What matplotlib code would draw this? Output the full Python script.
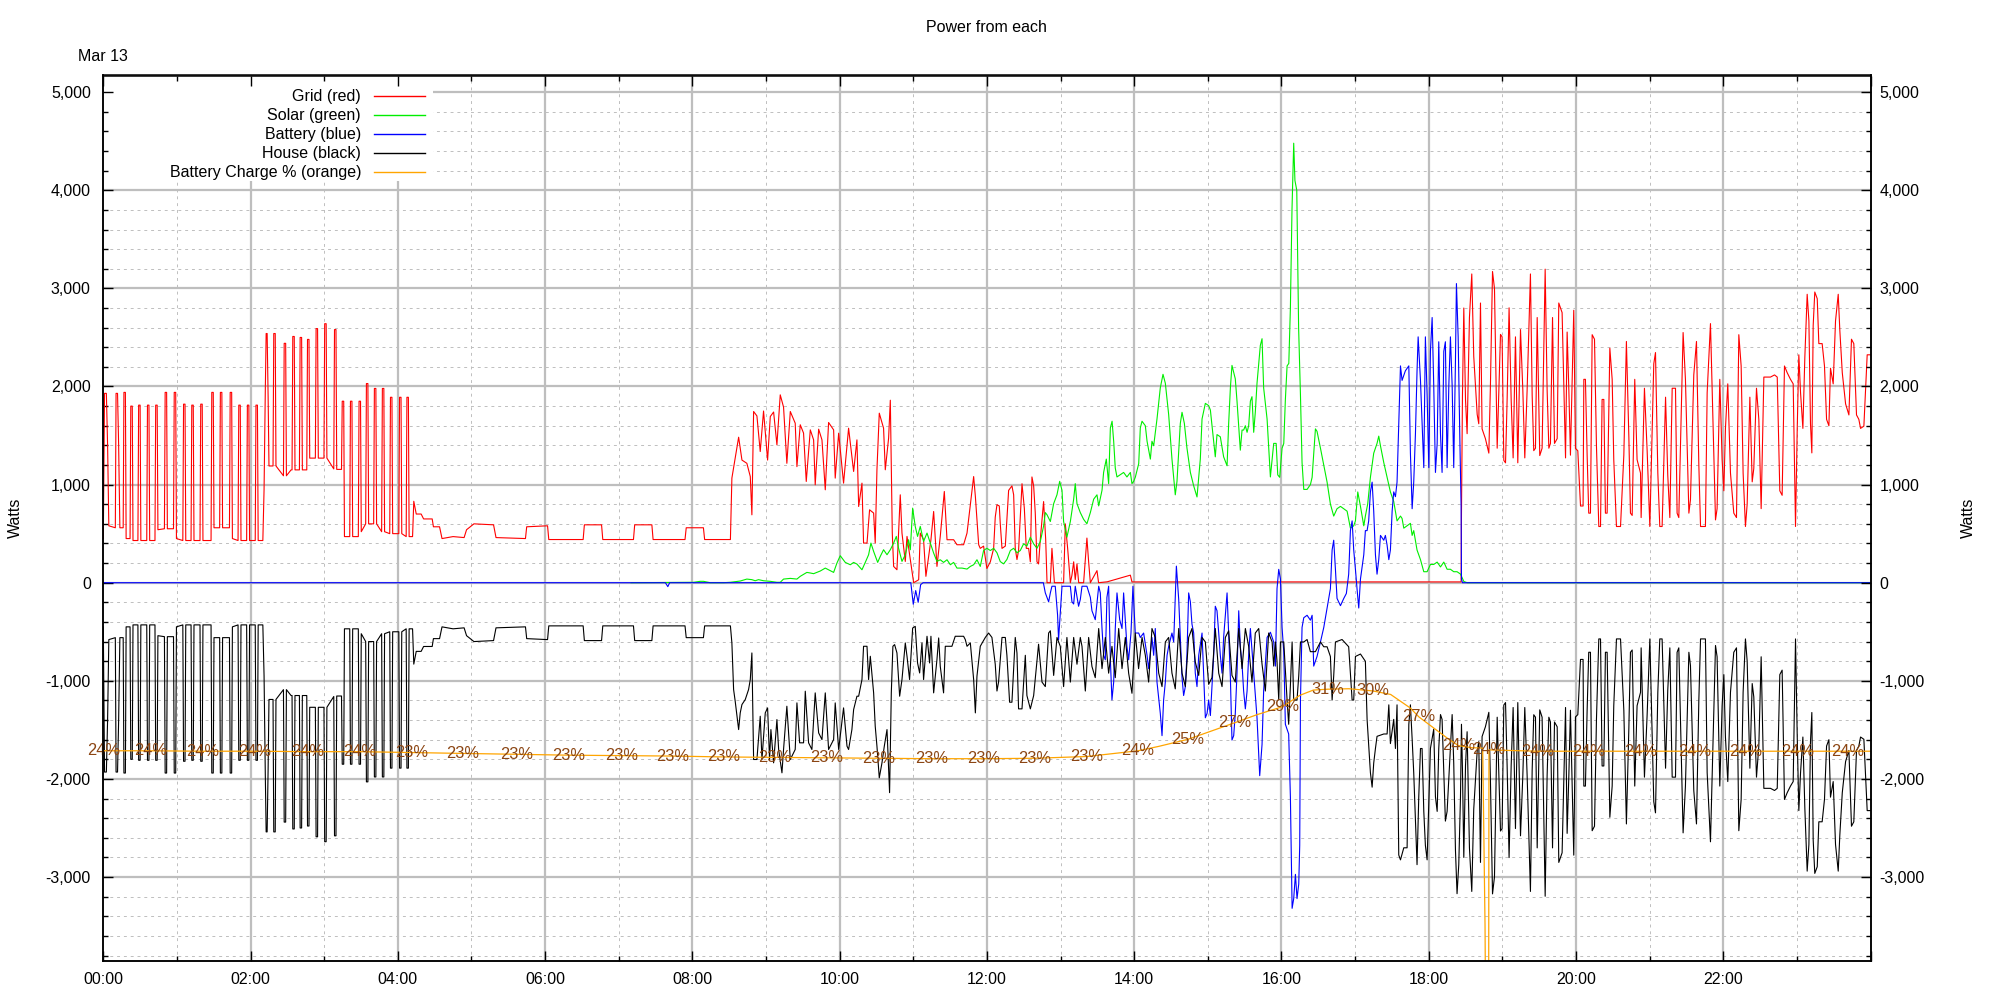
import matplotlib
matplotlib.use("Agg")
import matplotlib.pyplot as plt
from matplotlib.ticker import MultipleLocator, FuncFormatter
from matplotlib.patches import Rectangle
from matplotlib.lines import Line2D

plt.rcParams['font.family'] = ['Liberation Sans', 'DejaVu Sans']

# all times are minutes after midnight, values in watts

# night / early morning: battery idle, so house mirrors grid
night_t = [0, 1, 2.5, 3.5, 4.5, 9.8, 10.4, 11.6, 12.5, 13.5,
           16.2, 16.8, 18, 18.6, 21.8, 22.4, 23.6, 24.2,
           28.2, 28.8, 30, 30.6, 35.4, 36, 37.2, 37.8,
           42.1, 42.7, 43.9, 44.5, 49.8, 50.4, 51.6, 52.2,
           57.2, 57.8, 59, 59.6, 64.8, 65.4, 66.6, 67.2,
           71.5, 72.1, 73.3, 73.9, 78.8, 79.4, 80.6, 81.2,
           87.8, 88.4, 89.6, 90.2, 94.8, 95.4, 96.6, 97.2,
           102.8, 103.4, 104.6, 105.2, 109.8, 110.4, 111.6, 112.2,
           116.8, 117.4, 118.6, 119.2, 123.8, 124.4, 125.6, 126.2,
           130, 131, 132, 132.7, 133.5, 134.3, 135,
           138.3, 138.9, 140.1, 140.7, 146.8, 147.4, 148.6, 149.2, 153,
           153.8, 154.4, 155.6, 156.2, 159.8, 160.4, 161.6, 162.2,
           165.8, 166.4, 167.6, 168.2, 172.8, 173.4, 174.6, 175.2,
           179.8, 180.4, 181.6, 182.2, 187.8, 188.4, 189.6, 190.2,
           194.1, 194.7, 195.9, 196.5, 200.8, 201.4, 202.6, 203.2,
           207.8, 208.4, 209.6, 210.2, 213.8, 214.4, 215.6, 216.2,
           220.3, 220.9, 222.1, 222.7, 226.8, 227.4, 228.6, 229.2,
           233.4, 234, 235.2, 235.8, 240.8, 241.4, 242.6, 243.2,
           246.8, 247.4, 248.6, 249.2,
           252, 253, 255, 259, 261, 268, 269, 274, 276, 285, 294,
           296, 300, 302, 318, 320, 344, 345, 362, 363, 391, 392,
           406, 407, 432, 433, 447, 448, 474, 475, 489, 490, 511]
night_grid = [450, 1930, 1930, 1400, 580, 560, 1930, 1930, 1400, 560,
              560, 1940, 1940, 450, 450, 1800, 1800, 430,
              430, 1810, 1810, 430, 430, 1810, 1810, 430,
              430, 1810, 1810, 540, 550, 1940, 1940, 550,
              550, 1940, 1940, 450, 430, 1820, 1820, 430,
              430, 1810, 1810, 430, 430, 1820, 1820, 430,
              430, 1940, 1940, 560, 560, 1940, 1940, 560,
              560, 1940, 1940, 450, 430, 1810, 1810, 430,
              430, 1810, 1810, 430, 430, 1810, 1810, 430,
              430, 950, 1950, 2540, 2540, 1900, 1190,
              1190, 2540, 2540, 1190, 1090, 2440, 2440, 1090, 1150,
              1150, 2510, 2510, 1150, 1150, 2500, 2500, 1150,
              1150, 2480, 2480, 1270, 1270, 2590, 2590, 1270,
              1270, 2640, 2640, 1270, 1160, 2580, 2580, 1155,
              1155, 1850, 1850, 470, 470, 1850, 1850, 470,
              470, 1850, 1850, 520, 600, 2030, 2030, 600,
              600, 1980, 1980, 600, 520, 1980, 1980, 520,
              500, 1890, 1890, 500, 500, 1890, 1890, 500,
              470, 1890, 1890, 470,
              470, 830, 700, 700, 650, 650, 570, 570, 450, 470, 460,
              540, 580, 600, 590, 460, 450, 570, 580, 440, 440, 590,
              590, 440, 440, 590, 590, 440, 440, 560, 560, 440, 440]
night_house = [-450, -1930, -1930, -1400, -580, -560, -1930, -1930, -1400, -560,
               -560, -1940, -1940, -450, -450, -1800, -1800, -430,
               -430, -1810, -1810, -430, -430, -1810, -1810, -430,
               -430, -1810, -1810, -540, -550, -1940, -1940, -550,
               -550, -1940, -1940, -450, -430, -1820, -1820, -430,
               -430, -1810, -1810, -430, -430, -1820, -1820, -430,
               -430, -1940, -1940, -560, -560, -1940, -1940, -560,
               -560, -1940, -1940, -450, -430, -1810, -1810, -430,
               -430, -1810, -1810, -430, -430, -1810, -1810, -430,
               -430, -950, -1950, -2540, -2540, -1900, -1190,
               -1190, -2540, -2540, -1190, -1090, -2440, -2440, -1090, -1150,
               -1150, -2510, -2510, -1150, -1150, -2500, -2500, -1150,
               -1150, -2480, -2480, -1270, -1270, -2590, -2590, -1270,
               -1270, -2640, -2640, -1270, -1160, -2580, -2580, -1155,
               -1155, -1850, -1850, -470, -470, -1850, -1850, -470,
               -470, -1850, -1850, -520, -600, -2030, -2030, -600,
               -600, -1980, -1980, -600, -520, -1980, -1980, -520,
               -500, -1890, -1890, -500, -500, -1890, -1890, -500,
               -470, -1890, -1890, -470,
               -470, -830, -700, -700, -650, -650, -570, -570, -450, -470, -460,
               -540, -580, -600, -590, -460, -450, -570, -580, -440, -440, -590,
               -590, -440, -440, -590, -590, -440, -440, -560, -560, -440, -440]

# daytime grid import
day_grid = [
    (512.2, 1066), (517.7, 1483), (520.4, 1250), (524.4, 1217), (527.2, 1082), (528.5, 692), (529.9, 1745), (532.6, 1700),
    (535.3, 1337), (538, 1750), (541.3, 1250), (543.5, 1694), (546.2, 1740), (548.9, 1405), (551.6, 1915), (554.3, 1790),
    (557, 1217), (559.8, 1745), (563.8, 1626), (565.2, 1183), (567.9, 1610), (570.6, 1525), (572.8, 1032), (576.1, 1558),
    (578.8, 1456), (580.1, 998), (582.9, 1565), (585.6, 1456), (588.3, 947), (591, 1633), (595.1, 1558), (596.4, 1066),
    (599.2, 1524), (603.2, 1015), (607.3, 1575), (611.4, 1134), (614.1, 1456), (615.5, 777), (618.2, 1015), (619.5, 404),
    (622.3, 404), (624.4, 743), (627.7, 710), (629, 404), (630.4, 1151), (632.3, 1728), (635.8, 1575), (637.2, 1151),
    (639.9, 1473), (641.3, 1860), (642.9, 506), (644, 166), (646.7, 132), (649.4, 896), (650.8, 506), (653.5, 217),
    (654.9, 472), (657.6, 235), (660.3, 0), (664.4, 30), (665.7, 506), (668.4, 438), (670.3, 65), (674.4, 438),
    (676.6, 726), (679.3, 166), (682, 472), (685.3, 930), (687.5, 438), (692.9, 438), (695.6, 387), (701, 387),
    (703.8, 506), (709.2, 1082), (710.6, 880), (713.3, 387), (714.6, 350), (717.3, 373), (720, 145), (722.8, 213),
    (725.5, 350), (726.8, 668), (728.2, 795), (730.1, 782), (730.9, 600), (732.3, 350), (735, 373), (737.7, 941),
    (740.4, 987), (741.8, 896), (743.1, 350), (744.5, 236), (745.8, 327), (748.6, 1009), (750.5, 759), (752.1, 350),
    (754, 350), (755.4, 213), (756.7, 1078), (758.1, 987), (759.4, 714), (760.8, 213), (762.1, 191), (763.5, 441),
    (766.2, 827), (767.9, 441), (769, 0), (771.7, 0), (773, 350), (775, 0), (782.5, 0), (783.9, 600),
    (785.8, 350), (788, 0), (789.3, 77), (790.7, 213), (792, 32), (793.4, 191), (794.8, 0), (798.8, 0),
    (801.5, 455), (802.9, 213), (804.3, 0), (809.7, 123), (811, 0), (818, 9), (836.9, 77), (838.2, 8),
    (1106.4, 8), (1106.7, 700),
]

# evening: battery empty again, house mirrors grid
eve_t = [1107.5, 1108.6, 1110, 1111.3, 1113.2, 1115.1, 1116.7, 1118.1, 1119.5, 1120.8,
         1122.2, 1123.5, 1126.2, 1129, 1130.3, 1132, 1133.6, 1135.8, 1138.5, 1139.8,
         1141.2, 1142.6, 1143.9, 1145.5, 1147.2, 1148.8, 1150.7, 1152.6, 1154.8, 1156.7,
         1158.3, 1160.2, 1162.9, 1164.3, 1165.6, 1167, 1168.4, 1170.5, 1172.4, 1174.9,
         1176.5, 1177.9, 1179.2, 1180.9, 1182.5, 1184.7, 1186, 1188.7, 1190.1, 1191.5,
         1192.8, 1194.2, 1195.5, 1198.2, 1199.6, 1201.5, 1203.7, 1205.8, 1206.4, 1207.7,
         1209.1, 1210.4, 1211.8, 1213.2, 1215.1, 1216.7, 1218.6, 1220, 1221.3, 1222.7,
         1224, 1225.4, 1227.6, 1229.5, 1230.8, 1233, 1236.3, 1239, 1241.1, 1243.1,
         1244.4, 1245.8, 1247.9, 1249.8, 1252.6, 1253.1, 1255.8, 1258, 1260.2, 1263.4,
         1264.8, 1266.7, 1268.3, 1270.2, 1273, 1274.8, 1276.5, 1278.4, 1281.1, 1282.4,
         1283.8, 1287.3, 1289.2, 1292, 1293.3, 1296, 1298.2, 1300.1, 1301.5, 1305.5,
         1306.9, 1309.6, 1311.8, 1313.7, 1315, 1317.2, 1319.1, 1320.5, 1321.8, 1323.7,
         1325.9, 1328.6, 1330.8, 1332.7, 1334.6, 1336.2, 1338.1, 1339.5, 1341.7, 1343.6,
         1344.9, 1347.1, 1349, 1350.9, 1353.1, 1358.5, 1361.8, 1364, 1366.1, 1368,
         1369.9, 1372.1, 1374.8, 1377, 1378.9, 1380.3, 1381.6, 1383, 1384.9, 1386.5,
         1388.4, 1389.8, 1391.1, 1392.2, 1393.3, 1394.6, 1396.6, 1397.9, 1400.6, 1402.5,
         1404.2, 1406.1, 1407.4, 1409.6, 1411.5, 1413.7, 1415, 1417, 1419.7, 1422.4,
         1424.5, 1426.4, 1428.6, 1430.5, 1431.9, 1434.6, 1437.3, 1440]
eve_grid = [1900, 2800, 1864, 1519, 2703, 3147, 2308, 2012, 1716, 1620,
            2851, 1568, 1469, 1321, 2012, 3172, 2999, 1371, 2531, 2506,
            1247, 1222, 1864, 2802, 1864, 1272, 2506, 1222, 2580, 1963,
            1272, 1963, 3147, 1914, 1346, 1371, 2703, 1296, 1371, 3196,
            1963, 1371, 1420, 2703, 1420, 1469, 2851, 2753, 2012, 1272,
            2555, 1963, 1300, 2777, 1368, 1345, 782, 782, 2073, 2073,
            1300, 709, 709, 2528, 2482, 1391, 573, 573, 1868, 1868,
            709, 709, 2391, 2073, 1254, 573, 573, 1300, 2459, 1481,
            709, 686, 2073, 1254, 1118, 664, 1982, 1345, 573, 2232,
            2346, 1118, 573, 573, 1891, 1095, 664, 1982, 1982, 709,
            664, 2550, 2073, 709, 846, 2118, 2459, 1209, 573, 573,
            1936, 2641, 1573, 640, 755, 2073, 1254, 937, 1573, 2027,
            1118, 709, 664, 2528, 2209, 1118, 573, 800, 1891, 1028,
            1164, 1982, 1665, 755, 2096, 2096, 2118, 2096, 937, 891,
            2209, 2141, 2073, 2027, 573, 1573, 2323, 1936, 1573, 2300,
            2940, 2668, 1618, 1323, 2623, 2963, 2895, 2437, 2437, 2209,
            1665, 1600, 2186, 2027, 2668, 2940, 2573, 2141, 1823, 1710,
            2482, 2437, 1710, 1665, 1573, 1596, 2323, 2323]
eve_house = [-1900, -2800, -1864, -1519, -2703, -3147, -2308, -2012, -1716, -1620,
             -2851, -1568, -1469, -1321, -2012, -3172, -2999, -1371, -2531, -2506,
             -1247, -1222, -1864, -2802, -1864, -1272, -2506, -1222, -2580, -1963,
             -1272, -1963, -3147, -1914, -1346, -1371, -2703, -1296, -1371, -3196,
             -1963, -1371, -1420, -2703, -1420, -1469, -2851, -2753, -2012, -1272,
             -2555, -1963, -1300, -2777, -1368, -1345, -782, -782, -2073, -2073,
             -1300, -709, -709, -2528, -2482, -1391, -573, -573, -1868, -1868,
             -709, -709, -2391, -2073, -1254, -573, -573, -1300, -2459, -1481,
             -709, -686, -2073, -1254, -1118, -664, -1982, -1345, -573, -2232,
             -2346, -1118, -573, -573, -1891, -1095, -664, -1982, -1982, -709,
             -664, -2550, -2073, -709, -846, -2118, -2459, -1209, -573, -573,
             -1936, -2641, -1573, -640, -755, -2073, -1254, -937, -1573, -2027,
             -1118, -709, -664, -2528, -2209, -1118, -573, -800, -1891, -1028,
             -1164, -1982, -1665, -755, -2096, -2096, -2118, -2096, -937, -891,
             -2209, -2141, -2073, -2027, -573, -1573, -2323, -1936, -1573, -2300,
             -2940, -2668, -1618, -1323, -2623, -2963, -2895, -2437, -2437, -2209,
             -1665, -1600, -2186, -2027, -2668, -2940, -2573, -2141, -1823, -1710,
             -2482, -2437, -1710, -1665, -1573, -1596, -2323, -2323]

solar = [
    (430, 0), (481, 4), (486.4, 14), (489.1, 14), (494.6, 0), (505.4, 0), (510.9, 4), (519, 17), (524.4, 37), (528.5, 31),
    (531.2, 20), (533.9, 31), (538, 20), (543.5, 14), (548.9, 4), (551.6, 4), (554.3, 37), (559.8, 44), (565.2, 37), (567.9, 65),
    (573.3, 105), (576.1, 99), (578.8, 92), (584.2, 119), (588.3, 149), (591, 132), (595.1, 105), (597.8, 200), (600.5, 275), (604.6, 207),
    (608.7, 183), (611.4, 207), (614.1, 190), (618.2, 132), (620.9, 207), (623.6, 285), (625.5, 404), (627.7, 319), (631, 207), (633.1, 268),
    (635.8, 336), (638.6, 285), (641.3, 336), (644, 404), (646.2, 472), (648, 353), (650.8, 217), (653.5, 285), (656.2, 438), (657.6, 336),
    (659.5, 760), (661.6, 574), (663.5, 472), (665.7, 574), (668.4, 421), (671.2, 506), (673.9, 404), (676.6, 302), (679.3, 217), (682, 234),
    (684.7, 207), (687.5, 234), (690.2, 183), (692.9, 207), (695.6, 149), (699.7, 149), (703.8, 139), (706.5, 166), (709.2, 183), (711.9, 234),
    (714.6, 166), (717.3, 328), (720, 351), (722.8, 328), (725.5, 351), (728.2, 305), (730.9, 215), (733.6, 192), (736.3, 237), (739.1, 328),
    (741.8, 351), (744.5, 305), (747.2, 328), (749.9, 396), (752.6, 374), (755.4, 464), (758.1, 396), (760.8, 351), (763.5, 419), (766.2, 578),
    (767.6, 715), (769, 692), (771.7, 624), (774.4, 806), (777.1, 896), (779.3, 1033), (781.2, 942), (782.5, 624), (785.2, 464), (788, 624),
    (790.7, 851), (792, 1010), (793.4, 806), (796.1, 715), (798.8, 646), (801.5, 601), (804.3, 715), (807, 851), (809.7, 896), (811.1, 783),
    (813.8, 942), (815.1, 1124), (817.3, 1260), (819.2, 1010), (820.6, 1578), (822, 1646), (823.3, 1442), (824.6, 1169), (826, 1078), (828.7, 1101),
    (831.4, 1124), (834.1, 1078), (836.9, 1124), (838.2, 1010), (839.6, 1033), (841, 1078), (843.7, 1214), (845, 1578), (846.4, 1646), (849.1, 1600),
    (850.5, 1442), (853.2, 1260), (854.5, 1442), (855.9, 1396), (858.6, 1669), (861.3, 1987), (863.5, 2124), (865.4, 2033), (868.1, 1715), (870.8, 1260),
    (873.5, 896), (874.9, 1033), (877.6, 1624), (879, 1737), (880.9, 1624), (883, 1374), (885.8, 1124), (888.5, 987), (891.2, 874), (893.9, 1260),
    (895.3, 1669), (898, 1828), (900.7, 1805), (902.1, 1760), (904.8, 1442), (906.1, 1283), (907.5, 1510), (910.2, 1487), (912.9, 1283), (915.7, 1192),
    (917, 1624), (918.4, 1987), (919.7, 2215), (922.4, 2078), (923.8, 1851), (926.5, 1351), (927.9, 1556), (929.2, 1556), (930.6, 1600), (932, 1533),
    (933.3, 1600), (934.7, 1851), (936, 1896), (937.4, 1533), (938.7, 1737), (940.1, 2033), (942.8, 2419), (944.2, 2487), (945.5, 1987), (948.3, 1669),
    (951, 1078), (953.7, 1420), (955.7, 1420), (957, 1099), (958.6, 1074), (960.5, 1370), (961.9, 1420), (963.2, 1864), (964.6, 2210), (966, 2235),
    (967.3, 2800), (968.6, 3800), (970, 4480), (971, 4100), (972.5, 4000), (974, 2600), (975.5, 1913), (976.8, 1224), (978.2, 951), (980.9, 951),
    (983.6, 1000), (985, 1074), (986.3, 1320), (987.7, 1568), (989, 1543), (991.8, 1371), (994.5, 1199), (997.2, 1025), (999.9, 802), (1002.6, 679),
    (1005.3, 754), (1008.1, 778), (1010.8, 754), (1013.5, 729), (1016.2, 556), (1018.9, 580), (1020.3, 630), (1022.2, 925), (1024.4, 778), (1027.1, 580),
    (1028.4, 679), (1030.3, 803), (1032.5, 1074), (1035.2, 1320), (1037.9, 1420), (1039.3, 1494), (1040.7, 1395), (1043.4, 1224), (1046.1, 1074), (1048.8, 925),
    (1051.5, 828), (1054.2, 630), (1057, 679), (1058.3, 655), (1059.7, 556), (1062.4, 580), (1065.1, 605), (1066.5, 482), (1067.8, 531), (1070.5, 333),
    (1073.3, 235), (1076, 112), (1078.7, 112), (1081.4, 186), (1084.1, 186), (1086.9, 210), (1089.6, 161), (1092.3, 210), (1095, 137), (1097.7, 137),
    (1100.4, 112), (1103.1, 112), (1105.9, 88), (1108.6, 13), (1111.3, 0), (1440, 0),
]

battery = [
    (0, 0), (458, 0), (460, -40), (461.5, 0), (658, 0), (660, -220), (662, -80), (664, -200), (666, -20), (668, 0),
    (766, 0), (767.6, -104), (770.3, -195), (771.7, -104), (773, -36), (775.7, -36), (777.6, -331), (778.4, -581), (779.8, -308), (781.2, -36),
    (788, -36), (789.3, -195), (790.7, -217), (792, -36), (794.7, -240), (796.1, -172), (797.5, -36), (801.5, -36), (804.3, -149), (805.6, -286),
    (808.3, -377), (811.1, -36), (812.4, -104), (813.8, -467), (815.1, -740), (816.5, -786), (817.8, -149), (819.2, -36), (820.6, -786), (821.9, -1195),
    (823.3, -1013), (824.6, -467), (826, -104), (828.2, -377), (830.1, -467), (831.4, -104), (834.1, -649), (835.5, -786), (837.4, -513), (839, -36),
    (840.9, -513), (843.7, -513), (845, -558), (847.7, -513), (850.5, -740), (851.8, -876), (854.5, -558), (855.9, -740), (857.2, -467), (858.6, -1013),
    (861.3, -1332), (862.7, -1559), (864, -1195), (865.4, -1013), (866.8, -740), (868.1, -649), (870.8, -513), (872.2, -604), (874.4, 169), (876.3, -172),
    (877.6, -558), (879, -968), (880.3, -1150), (881.7, -1059), (883, -740), (884.4, -104), (885.8, -195), (887.1, -422), (888.5, -513), (889.8, -922),
    (891.2, -1059), (892.6, -740), (895.3, -513), (898, -1377), (899.4, -1332), (900.7, -1195), (902.1, -1354), (904.8, -740), (906.1, -240), (907.5, -286),
    (908.9, -513), (910.2, -740), (911.6, -922), (912.9, -558), (915.7, -104), (917, -513), (918.4, -968), (919.7, -1604), (921.1, -1559), (922.4, -1332),
    (923.8, -922), (925.2, -286), (926.5, -649), (927.9, -831), (929.2, -1104), (930.6, -1286), (932, -1104), (933.3, -740), (934.7, -467), (937.4, -922),
    (940.1, -1377), (942.3, -1967), (944.2, -1649), (945.5, -1104), (948.3, -558), (951, -505), (953.7, -604), (955.1, -850), (956.4, -61), (957.8, 136),
    (959.2, 38), (960.5, -456), (961.9, -703), (963.2, -1443), (965.9, -1542), (967.3, -2183), (968.7, -3319), (970, -3220), (971.4, -2973), (972.7, -3220),
    (974.1, -3072), (974.9, -2677), (975.5, -1196), (976.8, -456), (978.2, -357), (980.9, -332), (983.6, -382), (985, -332), (986.3, -850), (989, -752),
    (991.8, -604), (994.5, -456), (997.2, -258), (999.9, -61), (1001.3, 334), (1002.6, 433), (1004, 136), (1005.3, -160), (1008.1, -234), (1010.8, -160),
    (1012.9, -110), (1014.8, 87), (1016.2, 531), (1017.6, 630), (1018.9, 334), (1020.3, 136), (1021.6, -61), (1023, -258), (1024.4, 38), (1027.1, 285),
    (1028.4, 531), (1029.8, 531), (1031.1, 630), (1032.5, 926), (1033.9, 1025), (1035.2, 729), (1036.6, 285), (1037.9, 87), (1039.3, 235), (1040.7, 482),
    (1043.4, 433), (1044.7, 482), (1046.1, 383), (1047.5, 235), (1048.8, 334), (1050.2, 729), (1051.5, 926), (1052.9, 877), (1054.2, 1025), (1055.6, 1617),
    (1057, 2210), (1058.3, 2062), (1061, 2160), (1063.8, 2210), (1065.1, 1321), (1066.5, 754), (1067.8, 1025), (1069.2, 1519), (1070.5, 2160), (1071.4, 2506),
    (1073.3, 2062), (1076, 1173), (1077.3, 2506), (1078.7, 1914), (1080.1, 1173), (1081.4, 2358), (1082.8, 2703), (1084.1, 2012), (1085.5, 1124), (1086.9, 1420),
    (1088.2, 2456), (1089.6, 1519), (1090.9, 1124), (1092.3, 2358), (1093.6, 2456), (1095, 1173), (1096.4, 2012), (1097.7, 2506), (1099.1, 2012), (1100.4, 1173),
    (1101.8, 2259), (1102.6, 3049), (1104, 2506), (1105.3, 1519), (1106.4, 778), (1106.7, 38), (1107.5, 0), (1440, 0),
]

day_house = [
    (512.2, -614), (513.6, -1089), (514.9, -1208), (517.7, -1497), (519, -1327), (520.4, -1242), (523.1, -1191), (525.8, -1089), (527.2, -987), (528.5, -716),
    (529.9, -1802), (532.6, -1802), (535.3, -1361), (536.7, -1802), (539.4, -1327), (541.3, -1276), (542.9, -1802), (544, -1497), (546.2, -1836), (548.9, -1395),
    (550.3, -1700), (553, -1938), (554.3, -1700), (557, -1259), (559.8, -1802), (563.8, -1700), (565.2, -1225), (567.4, -1632), (570.6, -1632), (572, -1106),
    (574.7, -1632), (577.4, -1700), (580.1, -1123), (582.9, -1531), (585.6, -1599), (588.3, -1123), (591, -1700), (595.1, -1599), (596.4, -1225), (599.2, -1700),
    (603.2, -1276), (606, -1666), (607.3, -1700), (610, -1497), (611.4, -1293), (614.1, -1157), (615.5, -1157), (618.2, -987), (619.5, -648), (622.3, -648),
    (623.6, -987), (625, -750), (627.7, -1123), (629, -1463), (630.4, -1666), (632.3, -1989), (634.5, -1836), (636.4, -1666), (638.6, -1497), (640.7, -2140),
    (642.1, -1123), (643.4, -648), (644.8, -631), (646.7, -716), (648.9, -1157), (650.8, -987), (653.5, -614), (654.9, -750), (657, -987), (659.5, -462),
    (661.6, -445), (663.5, -818), (665.2, -920), (667.1, -614), (668.4, -987), (671.2, -546), (673.3, -818), (674.4, -546), (676.6, -1123), (679.3, -784),
    (680.7, -563), (682, -852), (684.7, -1123), (686.1, -648), (688.8, -648), (691.5, -648), (694.2, -546), (701, -546), (702.4, -580), (703.8, -648),
    (706.5, -614), (709.2, -987), (710.6, -1327), (711.9, -953), (714.6, -648), (718.7, -558), (721.4, -513), (724.1, -558), (726.8, -831), (728.2, -1104),
    (729.5, -1013), (732.3, -558), (735, -558), (736.3, -740), (738.5, -1218), (740.4, -1218), (743.1, -558), (744.5, -717), (745.8, -1286), (748.6, -1286),
    (751.3, -740), (752.6, -1150), (755.4, -1286), (758.1, -1150), (762.1, -627), (764.9, -1013), (767.6, -1059), (770.3, -513), (771.7, -490), (774.4, -945),
    (777.1, -558), (779.8, -649), (782.5, -1059), (785.2, -558), (788, -1013), (790.7, -558), (793.4, -831), (796.1, -558), (797.5, -649), (800.2, -1104),
    (802.9, -558), (805.6, -854), (808.3, -968), (811.1, -467), (813.8, -876), (816.5, -558), (819.2, -922), (821.9, -649), (824.6, -968), (827.4, -467),
    (830.1, -876), (832.8, -558), (835.5, -922), (838.2, -1127), (840.9, -513), (843.6, -876), (846.4, -558), (849.1, -740), (851.8, -1013), (854.5, -467),
    (857.2, -558), (860, -922), (862.7, -1059), (865.4, -604), (868.1, -558), (870.8, -922), (873.5, -1082), (876.3, -467), (879, -922), (881.7, -1059),
    (884.4, -558), (887.1, -467), (889.8, -808), (892.6, -945), (895.3, -558), (898, -604), (900.7, -1036), (903.4, -968), (906.1, -467), (908.9, -922),
    (911.6, -1059), (914.3, -558), (917, -490), (919.7, -945), (922.4, -1013), (925.2, -467), (927.9, -876), (930.6, -467), (933.3, -649), (936, -1013),
    (938.7, -513), (941.5, -467), (944.2, -831), (946.9, -1104), (949.6, -513), (952.4, -604), (953.7, -850), (955.1, -604), (956.4, -801), (957.8, -1196),
    (959.2, -604), (961.9, -604), (964.6, -1196), (965.9, -1443), (967.3, -1048), (968.7, -604), (970, -1196), (972.7, -1196), (974.1, -949), (975.5, -604),
    (978.2, -604), (980.9, -579), (983.6, -703), (987.7, -703), (991.8, -604), (994.5, -653), (997.2, -653), (999.9, -752), (1001.3, -1196), (1002.6, -949),
    (1004, -604), (1009.4, -579), (1014.8, -653), (1017.6, -1196), (1018.9, -1196), (1020.3, -752), (1024.4, -727), (1028.4, -801), (1029.8, -1393), (1032.5, -1936),
    (1033.9, -2084), (1035.2, -1838), (1036.6, -1690), (1037.9, -1566), (1043.4, -1542), (1046.1, -1542), (1047.5, -1245), (1048.8, -1640), (1051.5, -1393), (1052.9, -1690),
    (1054.2, -1245), (1055.6, -2776), (1057, -2825), (1059.7, -2702), (1062.4, -2702), (1063.8, -1443), (1065.1, -1245), (1066.5, -1591), (1067.8, -1936), (1069.2, -2430),
    (1070.5, -2874), (1071.9, -2183), (1073.3, -1690), (1074.6, -1690), (1076, -2331), (1077.3, -2677), (1078.7, -2825), (1080.1, -2233), (1081.4, -1690), (1084.1, -1492),
    (1085.5, -2183), (1086.9, -2331), (1088.2, -1690), (1089.6, -1344), (1090.9, -1393), (1092.3, -1936), (1093.6, -2430), (1095, -2331), (1097.7, -1690), (1099.1, -1344),
    (1100.4, -1838), (1101.8, -2726), (1103.1, -3170), (1104.5, -2874), (1105.9, -2183), (1106.7, -1443),
]

# battery charge %, label value shown at some points (0 = no label)
charge_t = [0, 38.5, 81, 123.7, 166.4, 209, 251.6, 293, 337, 379.5,
            422, 463.7, 505.3, 547, 589.5, 632, 674.8, 717.4, 759, 801.6,
            843.2, 860, 883.7, 900, 922.2, 940, 960.7, 975, 986, 998,
            1015, 1034.5, 1049, 1065, 1072, 1095, 1104, 1115, 1124, 1125.9,
            1126.1, 1128.9, 1129.1, 1168.6, 1210, 1253, 1296.5, 1338, 1380.7, 1421,
            1440]
charge_pct = [24.1, 24.1, 24.05, 24.05, 24.0, 24.0, 23.9, 23.8, 23.7, 23.6,
              23.55, 23.5, 23.4, 23.35, 23.3, 23.25, 23.2, 23.2, 23.25, 23.45,
              24.1, 24.6, 25.4, 26.2, 27.3, 28.2, 29.1, 30.4, 31.0, 31.1,
              31.15, 30.9, 30.5, 28.96, 27.95, 25.55, 24.7, 24.45, 24.4, 4.3,
              0, 0, 24.2, 24.05, 24.05, 24.05, 24.05, 24.05, 24.05, 24.05,
              24.05]
charge_lbl = [24, 24, 24, 24, 24, 24, 23, 23, 23, 23,
              23, 23, 23, 23, 23, 23, 23, 23, 23, 23,
              24, 0, 25, 0, 27, 0, 29, 0, 0, 31,
              0, 30, 0, 0, 27, 0, 24, 0, 0, 0,
              0, 0, 24, 24, 24, 24, 24, 24, 24, 24,
              0]

# charge % is drawn on the watts axis
PCT_SCALE = 89.7
PCT_OFFSET = -3875
YMIN, YMAX = -3856, 5170
FS = 11.5


def split(pts):
    return [p[0] for p in pts], [p[1] for p in pts]


dg_t, dg_w = split(day_grid)
grid_t = night_t + dg_t + eve_t
grid_w = night_grid + dg_w + eve_grid
dh_t, dh_w = split(day_house)
house_t = night_t + dh_t + eve_t
house_w = night_house + dh_w + eve_house
solar_t, solar_w = split(solar)
batt_t, batt_w = split(battery)
charge_y = [p * PCT_SCALE + PCT_OFFSET for p in charge_pct]

W, H = 2000, 1000
fig = plt.figure(figsize=(20, 10), dpi=100)
L, R, T, B = 103.3, 1870.5, 75.5, 961
ax = fig.add_axes([L / W, 1 - B / H, (R - L) / W, (B - T) / H])
ax.set_xlim(0, 1440)
ax.set_ylim(YMIN, YMAX)

# grid by hand so the key box can sit on top of it
gcol = '#bebebe'
for v in range(-3800, 5001, 200):
    if v % 1000 == 0:
        ax.axhline(v, color=gcol, lw=1.6, zorder=0.5)
    else:
        ax.axhline(v, color=gcol, lw=0.7, ls=(0, (3, 4)), zorder=0.5)
for m in range(60, 1440, 60):
    if m % 120 == 0:
        ax.axvline(m, color=gcol, lw=1.6, zorder=0.5)
    else:
        ax.axvline(m, color=gcol, lw=0.7, ls=(0, (3, 4)), zorder=0.5)

ax.add_patch(Rectangle((0, (B - 181) / (B - T)), (433 - L) / (R - L), 1,
                       transform=ax.transAxes, facecolor='white',
                       edgecolor='none', zorder=1))

ax.plot(grid_t, grid_w, color='#ff0000', lw=0.8, zorder=2)
ax.plot(solar_t, solar_w, color='#00ee00', lw=0.8, zorder=2)
ax.plot(batt_t, batt_w, color='#0000ff', lw=0.8, zorder=2)
ax.plot(house_t, house_w, color='black', lw=0.8, zorder=2)
ax.plot(charge_t, charge_y, color='#ffa500', lw=0.9, zorder=2)

for t, y, lab in zip(charge_t, charge_y, charge_lbl):
    if lab:
        ax.text(t, y, f"{lab}%", ha='center', va='center', color='#8b4513',
                fontsize=11.8, zorder=4, clip_on=False)

fmt_w = FuncFormatter(lambda v, p: f"{int(round(v)):,}")
ax.xaxis.set_major_locator(MultipleLocator(120))
ax.xaxis.set_minor_locator(MultipleLocator(60))
ax.xaxis.set_major_formatter(FuncFormatter(
    lambda v, p: f"{int(v) // 60:02d}:00" if v < 1440 else ""))
ax.yaxis.set_major_locator(MultipleLocator(1000))
ax.yaxis.set_minor_locator(MultipleLocator(200))
ax.yaxis.set_major_formatter(fmt_w)
ax.tick_params(which='both', direction='in', top=True, right=False, width=1)
ax.tick_params(which='major', length=7.5, labelsize=FS)
ax.tick_params(which='minor', length=3.5)
ax.tick_params(axis='y', which='major', pad=9)
ax.tick_params(axis='x', which='major', pad=8)
for s in ax.spines.values():
    s.set_linewidth(1.1)

ax2 = ax.twinx()
ax2.set_ylim(YMIN, YMAX)
ax2.yaxis.set_major_locator(MultipleLocator(1000))
ax2.yaxis.set_minor_locator(MultipleLocator(200))
ax2.yaxis.set_major_formatter(fmt_w)
ax2.tick_params(which='both', direction='in', width=1)
ax2.tick_params(which='major', length=7.5, labelsize=FS, pad=6.5)
ax2.tick_params(which='minor', length=3.5)
for s in ax2.spines.values():
    s.set_linewidth(1.1)

# key, right aligned text with the line sample after it
names = ["Grid (red)", "Solar (green)", "Battery (blue)", "House (black)",
         "Battery Charge % (orange)"]
colors = ['#ff0000', '#00ee00', '#0000ff', 'black', '#ffa500']
rows = [96, 115.3, 134.3, 153.3, 172.3]
for name, c, ry in zip(names, colors, rows):
    fig.text(361 / W, 1 - ry / H, name, ha='right', va='center', fontsize=FS)
    fig.add_artist(Line2D([374 / W, 425 / W], [1 - ry / H, 1 - ry / H],
                          color=c, lw=1.0, transform=fig.transFigure))

fig.text(986 / W, 1 - 27 / H, "Power from each", ha='center', va='center',
         fontsize=FS)
fig.text(102.6 / W, 1 - 56.7 / H, "Mar 13", ha='center', va='center',
         fontsize=FS)
fig.text(15.3 / W, 1 - B / H + (B - T) / H / 2, "Watts", rotation=90,
         ha='center', va='center', fontsize=FS)
fig.text(1968 / W, 1 - B / H + (B - T) / H / 2, "Watts", rotation=90,
         ha='center', va='center', fontsize=FS)

fig.savefig("out.png", dpi=100)
